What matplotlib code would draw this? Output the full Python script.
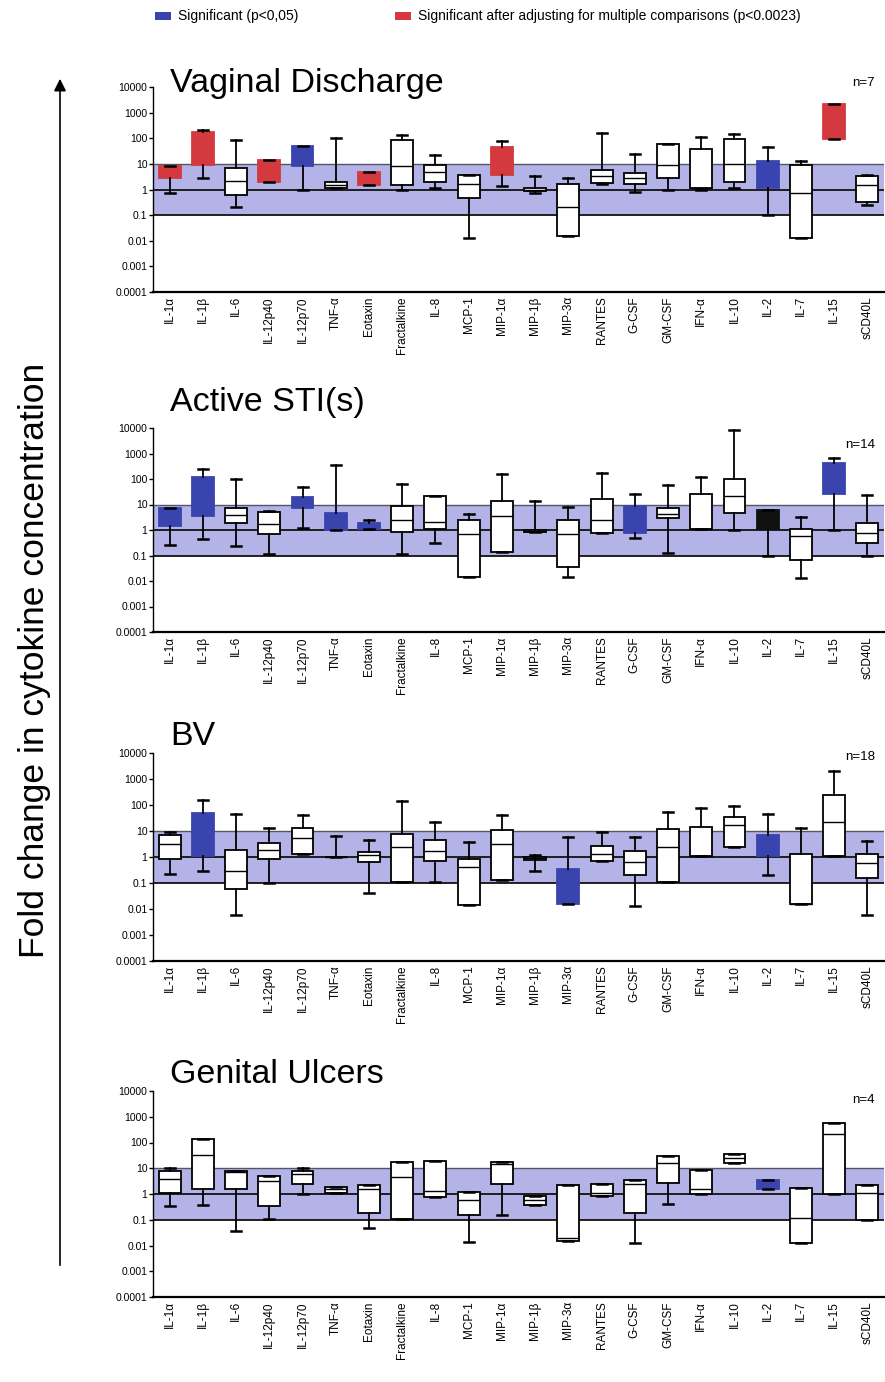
import numpy as np
import matplotlib
matplotlib.use("Agg")
import matplotlib.pyplot as plt
from matplotlib.patches import Rectangle, FancyArrowPatch

plt.rcParams['font.family'] = ['Liberation Sans', 'DejaVu Sans']

W, H = 885, 1382

cytokines = ["IL-1α", "IL-1β", "IL-6", "IL-12p40", "IL-12p70", "TNF-α", "Eotaxin",
             "Fractalkine", "IL-8", "MCP-1", "MIP-1α", "MIP-1β", "MIP-3α", "RANTES",
             "G-CSF", "GM-CSF", "IFN-α", "IL-10", "IL-2", "IL-7", "IL-15", "sCD40L"]

y_ticks = [1e-4, 1e-3, 1e-2, 1e-1, 1, 10, 100, 1000, 10000]
y_ticklabels = ["0.0001", "0.001", "0.01", "0.1", "1", "10", "100", "1000", "10000"]

# fold change summaries per cytokine: [whisker low, Q1, median, Q3, whisker high]
vaginal_discharge = [
    [0.75, 2.7, 4.5, 8, 8], [2.9, 9, 60, 170, 215], [0.21, 0.6, 2.2, 7, 89],
    [2, 2, 5, 13.7, 13.7], [1, 8, 20, 48, 48], [1.1, 1.1, 1.5, 2, 100],
    [1.5, 1.5, 2.5, 4.8, 4.8], [1, 1.56, 8, 89, 138], [1.16, 2, 4.8, 8.7, 23],
    [0.013, 0.45, 1.7, 3.8, 3.8], [1.35, 3.6, 12, 45, 80], [0.7, 0.85, 1.0, 1.1, 3.3],
    [0.015, 0.015, 0.2, 1.6, 2.9], [1.6, 1.8, 3.3, 6, 160], [0.8, 1.7, 2.7, 4.5, 25],
    [1, 2.9, 8.7, 60, 60], [1, 1.1, 1.1, 39, 110], [1.1, 2, 9.6, 94, 148],
    [0.1, 1.1, 4, 13, 47], [0.0126, 0.0126, 0.75, 8.7, 12.5], [94, 94, 500, 2100, 2100],
    [0.25, 0.33, 1.5, 3.3, 3.8]]
active_sti = [
    [0.26, 1.5, 3, 7.5, 7.5], [0.44, 3.5, 20, 123, 247], [0.24, 1.8, 3.9, 7.1, 97],
    [0.11, 0.7, 1.7, 4.9, 5.5], [1.16, 7.5, 12, 20, 50], [1, 1, 2, 4.5, 355],
    [1.06, 1.06, 1.4, 1.9, 2.5], [0.11, 0.86, 2.5, 8.7, 62], [0.32, 1.07, 2.1, 22, 22],
    [0.014, 0.014, 0.7, 2.5, 4.2], [0.14, 0.14, 3.5, 14, 152], [0.8, 0.8, 0.9, 1.0, 14],
    [0.015, 0.036, 0.7, 2.5, 8.2], [0.74, 0.74, 2.5, 16, 167], [0.47, 0.79, 2.5, 8.7, 26],
    [0.12, 2.9, 4.2, 7.5, 58], [1.06, 1.06, 1.06, 27, 116], [1, 4.8, 21, 97, 8300],
    [0.1, 1.06, 3, 6, 6], [0.0126, 0.066, 0.58, 1.07, 3.1], [1, 27, 100, 410, 650],
    [0.1, 0.3, 0.79, 1.9, 24]]
bv = [
    [0.23, 0.86, 3.1, 6.8, 9], [0.3, 1.06, 10, 50, 160], [0.0057, 0.06, 0.28, 1.9, 46],
    [0.1, 0.86, 1.8, 3.5, 13], [1.34, 1.34, 5.4, 13, 43], [1, 1, 1, 1, 6.4],
    [0.043, 0.64, 1.15, 1.5, 4.4], [0.11, 0.11, 2.4, 7.9, 138], [0.11, 0.7, 1.7, 4.4, 22],
    [0.014, 0.014, 0.41, 0.86, 3.8], [0.13, 0.13, 3.1, 10.6, 40], [0.3, 0.8, 0.9, 1.0, 1.2],
    [0.015, 0.015, 0.1, 0.36, 5.9], [0.7, 0.7, 1.3, 2.6, 9], [0.0126, 0.2, 0.64, 1.7, 5.9],
    [0.11, 0.11, 2.4, 12, 54], [1.06, 1.06, 1.06, 14, 79], [2.4, 2.4, 17.5, 35, 89],
    [0.2, 1.06, 3, 6.8, 44], [0.015, 0.015, 0.015, 1.27, 13], [1.06, 1.06, 22, 250, 1950],
    [0.006, 0.16, 0.6, 1.34, 4]]
genital_ulcers = [
    [0.33, 1.1, 3.8, 8, 10], [0.39, 1.5, 33, 135, 140], [0.036, 1.56, 7, 8, 8],
    [0.11, 0.33, 3.1, 5.1, 5.1], [1, 2.5, 5.9, 8, 10], [1.1, 1.1, 1.5, 1.9, 1.9],
    [0.046, 0.18, 1.5, 2.2, 2.2], [0.11, 0.11, 4.5, 17, 17], [0.74, 0.74, 1.27, 19.5, 19.5],
    [0.014, 0.15, 0.6, 1.2, 1.2], [0.15, 2.5, 15, 17, 17], [0.39, 0.39, 0.6, 0.86, 0.86],
    [0.015, 0.015, 0.02, 2.3, 2.3], [0.81, 0.81, 1.1, 2.4, 2.4], [0.013, 0.19, 2.5, 3.6, 3.6],
    [0.41, 2.7, 16, 29, 29], [1, 1, 1.5, 8.2, 8.2], [16, 16, 25, 36, 36],
    [1.5, 1.5, 2.3, 3.4, 3.4], [0.013, 0.013, 0.12, 1.7, 1.7], [1, 1, 210, 560, 560],
    [0.1, 0.1, 1.1, 2.3, 2.3]]

# significance code per cytokine: n = not significant, s = p<0.05,
# a = significant after multiple-comparison adjustment, k = p<0.05 (printed black)
sig_vaginal = list("aanasnannnannnnnnnsnan")
sig_sti = list("ssnnsssnnnnnnnsnnnknsn")
sig_bv = list("nsnnnnnnnnnnsnnnnnsnnn")
sig_ulcers = list("nnnnnnnnnnnnnnnnnnsnnn")

panels = [
    ("Vaginal Discharge", "n=7", vaginal_discharge, sig_vaginal),
    ("Active STI(s)", "n=14", active_sti, sig_sti),
    ("BV", "n=18", bv, sig_bv),
    ("Genital Ulcers", "n=4", genital_ulcers, sig_ulcers),
]

BLUE = "#3a44ae"
RED = "#d4393f"
BAND = "#b3b3e8"
fill = {"n": "white", "s": BLUE, "a": RED, "k": "#111111"}

# axes extents in pixels (top, bottom) and title/n-label baselines
ax_rows = [(87, 292), (428, 632), (753, 961), (1091, 1297)]
title_base = [92, 411, 745, 1083]
n_base = [86, 448, 760, 1103]
LEFT, RIGHT = 153, 884

fig = plt.figure(figsize=(W / 100, H / 100), dpi=100)


def fx(px):
    return px / W


def fy(py):
    return 1 - py / H


for (title, ntext, data, sig), (top, bot), tb, nb in zip(panels, ax_rows, title_base, n_base):
    ax = fig.add_axes([fx(LEFT), fy(bot), fx(RIGHT - LEFT), (bot - top) / H])
    ax.set_yscale("log")
    ax.set_ylim(1e-4, 1e4)
    ax.set_xlim(-0.5, len(cytokines) - 0.5)

    ax.axhspan(0.1, 10, color=BAND, zorder=0, lw=0)
    ax.axhline(1, color="#111111", lw=1.3, zorder=1)
    ax.axhline(0.1, color="#111111", lw=1.3, zorder=1)
    ax.axhline(10, color="#555566", lw=1.0, zorder=1)

    stats = [dict(whislo=d[0], q1=d[1], med=d[2], q3=d[3], whishi=d[4], label=c)
             for d, c in zip(data, cytokines)]
    art = ax.bxp(stats, positions=np.arange(len(cytokines)), widths=0.66,
                 patch_artist=True, showfliers=False,
                 boxprops=dict(lw=1.3, edgecolor="black", facecolor="white"),
                 whiskerprops=dict(lw=1.3, color="black"),
                 capprops=dict(lw=1.8, color="black"),
                 medianprops=dict(lw=1.0, color="black"),
                 capwidths=0.3, zorder=3)
    for i, code in enumerate(sig):
        box = art["boxes"][i]
        box.set_facecolor(fill[code])
        if code != "n":
            box.set_edgecolor(fill[code])
            art["medians"][i].set_color(fill[code])

    ax.set_yticks(y_ticks)
    ax.set_yticklabels(y_ticklabels)
    ax.yaxis.set_minor_locator(matplotlib.ticker.NullLocator())
    ax.tick_params(axis="y", labelsize=7.5, length=3, width=1, pad=1)
    ax.set_xticks(np.arange(len(cytokines)))
    ax.set_xticklabels(cytokines, rotation=90, fontsize=8.5)
    ax.tick_params(axis="x", length=0, pad=3)
    for s in ("top", "right"):
        ax.spines[s].set_visible(False)
    ax.spines["left"].set_linewidth(1.0)
    ax.spines["bottom"].set_linewidth(1.6)

    fig.text(fx(170), fy(tb), title, fontsize=24.5, va="baseline", ha="left")
    fig.text(fx(875), fy(nb), ntext, fontsize=9.5, va="baseline", ha="right")

# legend row
fig.add_artist(Rectangle((fx(155), fy(20)), fx(16), 8 / H, transform=fig.transFigure,
                         facecolor=BLUE, edgecolor="none"))
fig.text(fx(178), fy(20), "Significant (p<0,05)", fontsize=10, va="baseline")
fig.add_artist(Rectangle((fx(395), fy(20)), fx(16), 8 / H, transform=fig.transFigure,
                         facecolor=RED, edgecolor="none"))
fig.text(fx(418), fy(20),
         "Significant after adjusting for multiple comparisons (p<0.0023)",
         fontsize=10, va="baseline")

# shared y label with upward arrow
fig.text(fx(35), fy(660), "Fold change in cytokine concentration", rotation=90,
         fontsize=25.5, ha="center", va="center")
fig.add_artist(FancyArrowPatch((fx(60), fy(1268)), (fx(60), fy(76)),
                               transform=fig.transFigure, arrowstyle="-|>",
                               mutation_scale=18, lw=1.2, color="black"))

fig.savefig("out.png", dpi=100)
